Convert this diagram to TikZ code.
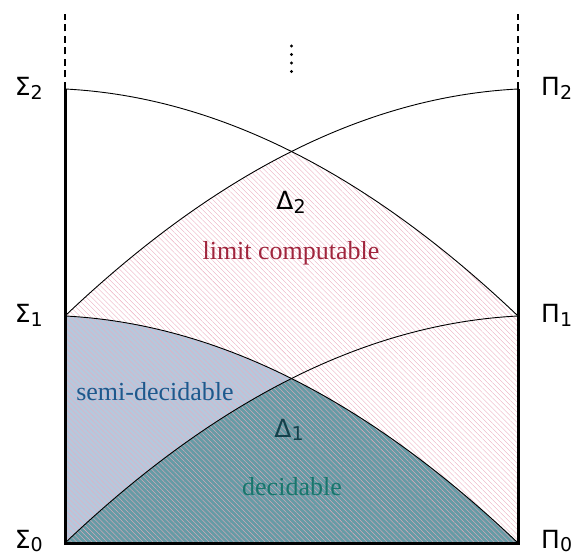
\documentclass[tikz,border=0pt]{standalone}
\usepackage{fontspec}
\setmainfont{Liberation Serif}
\newfontfamily\gkfont{DejaVu Sans}
\usetikzlibrary{calc,patterns.meta}
\definecolor{limitred}{RGB}{160,36,60}
\definecolor{semiblue}{RGB}{30,88,140}
\definecolor{decteal}{RGB}{25,118,108}
\definecolor{deltadark}{RGB}{21,65,75}
\definecolor{bluefill}{RGB}{182,200,221}
\definecolor{tealfill}{RGB}{102,155,165}
\definecolor{hatchpink}{RGB}{234,172,190}
\newcommand{\glab}[2]{{\gkfont\fontsize{25}{29}\selectfont #1\raisebox{-0.15em}{\fontsize{19}{19}\selectfont #2}}}
\tikzset{
  edge/.style={line width=3pt},
  curve/.style={line width=0.9pt},
  dashedge/.style={line width=2pt, dash pattern=on 7pt off 4.5pt},
  lbl/.style={inner sep=0pt, font=\fontsize{26}{30}\selectfont},
  hatch/.style={pattern={Lines[angle=-45,distance=3.6pt,line width=0.36pt]}, pattern color=hatchpink},
}
\begin{document}
\begin{tikzpicture}[x=1pt,y=1pt]
\useasboundingbox (0,0) rectangle (572,557);
\coordinate (S0) at (65,14);
\coordinate (S1) at (65,241);
\coordinate (S2) at (65,468);
\coordinate (P0) at (518,14);
\coordinate (P1) at (518,241);
\coordinate (P2) at (518,468);
\coordinate (ST) at (65,543);
\coordinate (PT) at (518,543);
\coordinate (CL) at (291.5,229.5);
\coordinate (CU) at (291.5,456.5);
% blue: semi-decidable
\fill[bluefill] (S0) -- (S1) .. controls ($(S1)!2/3!(CL)$) and ($(P0)!2/3!(CL)$) .. (P0) -- cycle;
% teal: decidable
\begin{scope}
\clip (S0) .. controls ($(S0)!2/3!(CL)$) and ($(P1)!2/3!(CL)$) .. (P1) -- (P0) -- cycle;
\fill[tealfill] (S0) -- (S1) .. controls ($(S1)!2/3!(CL)$) and ($(P0)!2/3!(CL)$) .. (P0) -- cycle;
\end{scope}
% hatch: limit computable
\begin{scope}
\clip (S0) -- (S1) .. controls ($(S1)!2/3!(CU)$) and ($(P2)!2/3!(CU)$) .. (P2) -- (P0) -- cycle;
\fill[hatch] (S0) -- (S2) .. controls ($(S2)!2/3!(CU)$) and ($(P1)!2/3!(CU)$) .. (P1) -- (P0) -- cycle;
\end{scope}
% curves
\draw[curve] (S1) .. controls ($(S1)!2/3!(CL)$) and ($(P0)!2/3!(CL)$) .. (P0);
\draw[curve] (S0) .. controls ($(S0)!2/3!(CL)$) and ($(P1)!2/3!(CL)$) .. (P1);
\draw[curve] (S2) .. controls ($(S2)!2/3!(CU)$) and ($(P1)!2/3!(CU)$) .. (P1);
\draw[curve] (S1) .. controls ($(S1)!2/3!(CU)$) and ($(P2)!2/3!(CU)$) .. (P2);
% edges
\draw[edge] (S2) -- (S0) -- (P0) -- (P2);
\draw[dashedge] (S2) -- (ST);
\draw[dashedge] (P2) -- (PT);
% dots
\foreach \yy in {511,502.5,494,485.5} \fill (291.5,\yy) circle (1.6pt);
% labels
\node[lbl, anchor=base east] (l-s2) at (43,461) {\glab{Σ}{2}};
\node[lbl, anchor=base east] (l-s1) at (43,234) {\glab{Σ}{1}};
\node[lbl, anchor=base east] (l-s0) at (43,9) {\glab{Σ}{0}};
\node[lbl, anchor=base west] (l-p2) at (541,461) {\glab{Π}{2}};
\node[lbl, anchor=base west] (l-p1) at (541,234) {\glab{Π}{1}};
\node[lbl, anchor=base west] (l-p0) at (541,9) {\glab{Π}{0}};
\node[lbl, anchor=base] (d2) at (291,347) {\glab{Δ}{2}};
\node[lbl, anchor=base, text=limitred] (lc) at (291,297) {limit computable};
\node[lbl, anchor=base, text=semiblue] (sd) at (155,157) {semi-decidable};
\node[lbl, anchor=base, text=deltadark] (d1) at (289,120) {\glab{Δ}{1}};
\node[lbl, anchor=base, text=decteal] (dc) at (292,62) {decidable};
\end{tikzpicture}
\end{document}
